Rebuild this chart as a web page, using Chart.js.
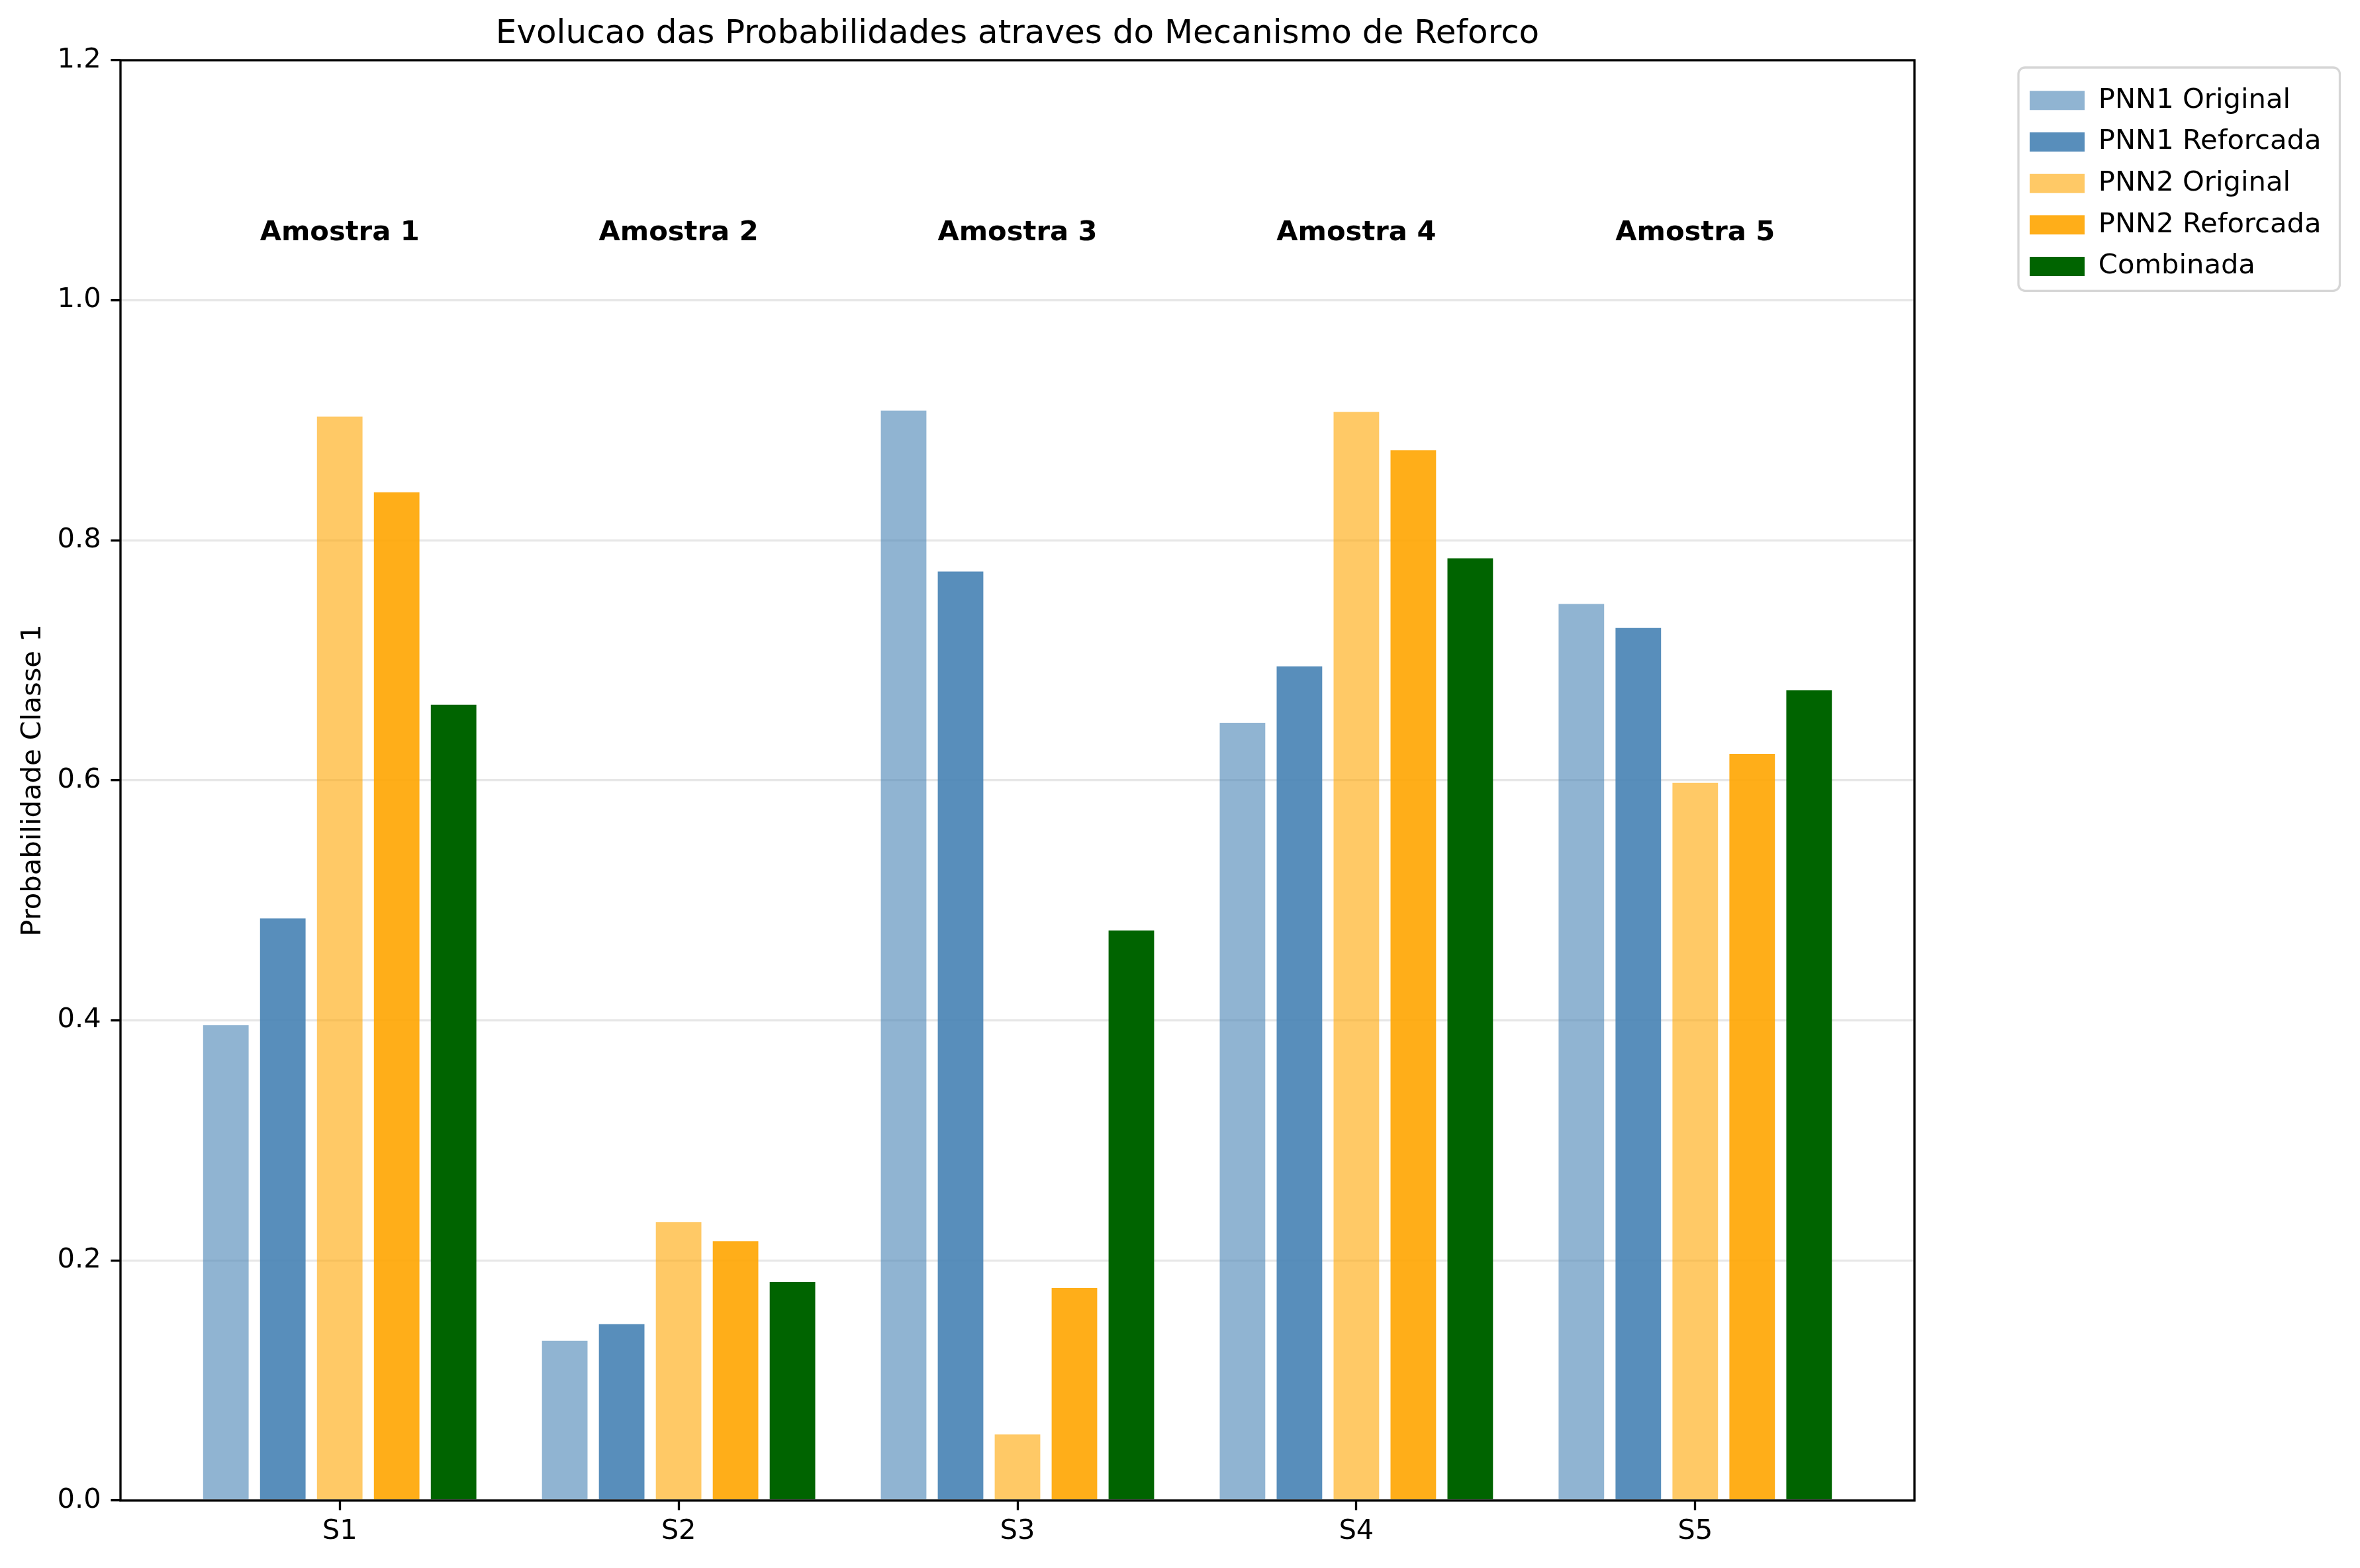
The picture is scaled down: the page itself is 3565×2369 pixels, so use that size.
<!DOCTYPE html>
<html>
<head>
<meta charset="utf-8">
<script src="https://cdn.jsdelivr.net/npm/chart.js@4.4.1/dist/chart.umd.min.js"></script>
<style>
    body { margin: 0; background: #fff; }
</style>
</head>
<body>
<canvas id="MyChart" width="3565" height="2369"></canvas>
<script>
// valeurs
const samples = ['S1', 'S2', 'S3', 'S4', 'S5'];
const sampleNames = ['Amostra 1', 'Amostra 2', 'Amostra 3', 'Amostra 4', 'Amostra 5'];
const pnn1Original = [0.396, 0.133, 0.908, 0.648, 0.747];
const pnn1Reforcada = [0.485, 0.147, 0.774, 0.695, 0.727];
const pnn2Original = [0.903, 0.232, 0.055, 0.907, 0.598];
const pnn2Reforcada = [0.840, 0.216, 0.177, 0.875, 0.622];
const combinada = [0.663, 0.182, 0.475, 0.785, 0.675];
const yTicks = [0, 0.2, 0.4, 0.6, 0.8, 1.0, 1.2];
const nameY = 1.05;

const font = 'DejaVu Sans';
const pt = 300 / 72; // figure à 300 dpi

function points(values) {
    return values.map((v, i) => ({x: i, y: v}));
}

const data = {
    datasets: [{
        label: 'PNN1 Original',
        backgroundColor: 'rgba(70,130,180,0.6)',
        data: points(pnn1Original),
    },
    {
        label: 'PNN1 Reforcada',
        backgroundColor: 'rgba(70,130,180,0.9)',
        data: points(pnn1Reforcada),
    },
    {
        label: 'PNN2 Original',
        backgroundColor: 'rgba(255,165,0,0.6)',
        data: points(pnn2Original),
    },
    {
        label: 'PNN2 Reforcada',
        backgroundColor: 'rgba(255,165,0,0.9)',
        data: points(pnn2Reforcada),
    },
    {
        label: 'Combinada',
        backgroundColor: '#006400',
        data: points(combinada),
    },
]
};

// legend placement + frame + sample names
const extras = {
    id: 'extras',
    beforeLayout(chart) {
        const lg = chart.legend;
        if (lg && !lg._patched) {
            const fit = lg.fit.bind(lg);
            lg.fit = function () { fit(); this._natW = this.width; this.width = 673; };
            lg._patched = true;
        }
    },
    afterLayout(chart) {
        const lg = chart.legend;
        lg.left = 3045;
        lg.right = lg.left + lg._natW;
        lg.top = 110;
        lg.bottom = lg.top + lg.height;
    },
    afterDatasetsDraw(chart) {
        const ctx = chart.ctx;
        const xs = chart.scales.x, ys = chart.scales.y;
        ctx.save();
        ctx.fillStyle = '#000';
        ctx.font = 'bold ' + (10 * pt) + 'px ' + font;
        ctx.textAlign = 'center';
        ctx.textBaseline = 'alphabetic';
        sampleNames.forEach((n, i) => {
            ctx.fillText(n, xs.getPixelForValue(i), ys.getPixelForValue(nameY));
        });
        ctx.restore();
    },
    afterDraw(chart) {
        const ctx = chart.ctx;
        const a = chart.chartArea;
        ctx.save();
        ctx.strokeStyle = '#000';
        ctx.lineWidth = 0.8 * pt;
        ctx.strokeRect(a.left, a.top, a.right - a.left, a.bottom - a.top);
        // cadre de la légende
        const boxes = chart.legend.legendHitBoxes;
        if (boxes && boxes.length) {
            let l = Infinity, t = Infinity, r = -Infinity, b = -Infinity;
            boxes.forEach(h => {
                l = Math.min(l, h.left); t = Math.min(t, h.top);
                r = Math.max(r, h.left + h.width); b = Math.max(b, h.top + h.height);
            });
            ctx.strokeStyle = '#d6d6d6';
            ctx.lineWidth = 3.3;
            ctx.beginPath();
            ctx.roundRect(l - 17, t - 29, r - l + 45, b - t + 45, 10);
            ctx.stroke();
        }
        ctx.restore();
    }
};

const config = {
    type: 'bar',
    data: data,
    options: {
        responsive: false,
        devicePixelRatio: 1,
        animation: false,
        categoryPercentage: 0.84,
        barPercentage: 0.8,
        layout: {padding: 0},
        scales: {
            x: {
                type: 'linear',
                offset: false,
                min: -0.647,
                max: 4.647,
                afterBuildTicks: (scale) => { scale.ticks = samples.map((s, i) => ({value: i})); },
                afterFit: (scale) => { scale.height = 102; },
                border: {display: false},
                grid: {offset: false, drawOnChartArea: false, drawTicks: true, tickLength: 3.5 * pt, tickColor: '#000', tickWidth: 0.8 * pt},
                ticks: {
                    callback: (v) => samples[v] ?? '',
                    color: '#000',
                    font: {family: font, size: 10 * pt},
                    padding: 8,
                    maxRotation: 0,
                    autoSkip: false,
                },
            },
            y: {
                min: 0,
                max: 1.2,
                z: 1,
                afterBuildTicks: (scale) => { scale.ticks = yTicks.map(v => ({value: v})); },
                afterFit: (scale) => { scale.width = 182; },
                border: {display: false},
                grid: {color: 'rgba(176,176,176,0.3)', lineWidth: 0.8 * pt, tickLength: 3.5 * pt, tickColor: '#000', tickWidth: 0.8 * pt},
                ticks: {
                    callback: (v) => v.toFixed(1),
                    color: '#000',
                    font: {family: font, size: 10 * pt},
                    padding: 3.5 * pt,
                },
                title: {
                    display: true,
                    text: 'Probabilidade Classe 1',
                    color: '#000',
                    font: {family: font, size: 10 * pt},
                    padding: {top: 25, bottom: 0},
                },
            },
        },
        plugins: {
            title: {
                display: true,
                fullSize: false,
                text: 'Evolucao das Probabilidades atraves do Mecanismo de Reforco',
                color: '#000',
                font: {family: font, size: 12 * pt, weight: 'normal'},
                padding: {top: 22, bottom: 9},
            },
            legend: {
                position: 'right',
                align: 'start',
                labels: {
                    boxWidth: 83,
                    boxHeight: 29,
                    padding: 21,
                    color: '#000',
                    font: {family: font, size: 10 * pt},
                },
            },
            tooltip: {enabled: false},
        },
    },
    plugins: [extras],
};

const myChart = new Chart(document.getElementById('MyChart'), config);
</script>
</body>
</html>
